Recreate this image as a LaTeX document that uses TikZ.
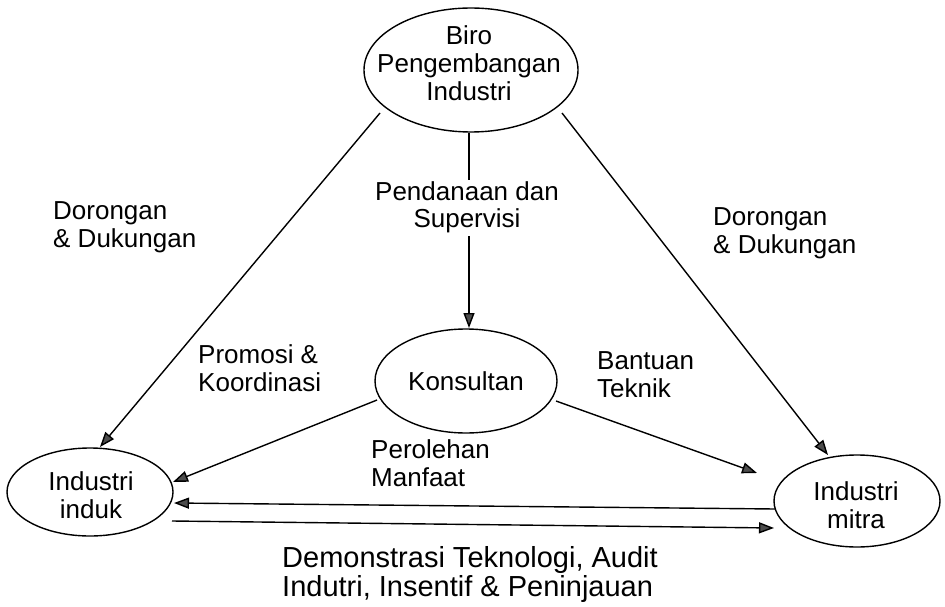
\documentclass[tikz,border=0pt]{standalone}
\usepackage{fontspec}
\setmainfont{Liberation Sans}
\usetikzlibrary{shapes.geometric,arrows.meta}
\newcommand\mytab[2][l]{\begin{tabular}[t]{@{}#1@{}}#2\end{tabular}}
\begin{document}
\begin{tikzpicture}[x=1pt,y=-1pt,
  ell/.style={draw,ellipse,line width=1.4pt,inner sep=0pt},
  conn/.style={line width=1.4pt,-{Triangle[length=15pt,width=11pt,fill=black!70]}},
  txt/.style={inner sep=0pt,font=\fontsize{26}{28}\selectfont},
  lt/.style={txt,anchor=base west},
  ct/.style={txt,anchor=base}]
\useasboundingbox (0,0) rectangle (945,607);
% ellipses
\node[ell,minimum width=214pt,minimum height=124pt] (biro) at (471,70) {};
\node[ell,minimum width=182pt,minimum height=104pt] (kons) at (466,381) {};
\node[ell,minimum width=166pt,minimum height=88pt] (induk) at (90,492) {};
\node[ell,minimum width=166pt,minimum height=92pt] (mitra) at (857,501) {};
% node texts
\node[ct] (tbiro) at (469,45) {\mytab[c]{Biro\\Pengembangan\\Industri}};
\node[ct] (tkons) at (466,390) {Konsultan};
\node[ct] (tinduk) at (91,490) {\mytab[c]{Industri\\induk}};
\node[ct] (tmitra) at (856,500) {\mytab[c]{Industri\\mitra}};
% connector end points
\coordinate (a1s) at (380,113);
\coordinate (a1e) at (100,447);
\coordinate (a2s) at (562,113);
\coordinate (a2e) at (828,455);
\coordinate (a3e) at (469,328);
\coordinate (a4s) at (377,400);
\coordinate (a4e) at (173,482);
\coordinate (a5s) at (556,401);
\coordinate (a5e) at (757,473);
\coordinate (a6s) at (775,509);
\coordinate (a6e) at (174,503);
\coordinate (a7s) at (172,521);
\coordinate (a7e) at (774,528);
% connectors
\draw[conn] (a1s) -- (a1e);
\draw[conn] (a2s) -- (a2e);
\draw[conn] (biro.south -| a3e) -- (a3e);
\draw[conn] (a4s) -- (a4e);
\draw[conn] (a5s) -- (a5e);
\draw[conn] (a6s) -- (a6e);
\draw[conn] (a7s) -- (a7e);
% labels
\node[lt] (l1) at (53,219) {\mytab{Dorongan\\\& Dukungan}};
\node[ct,fill=white] (l2) at (467,200) {\mytab[c]{Pendanaan dan\\Supervisi}};
\node[lt] (l3) at (713,225) {\mytab{Dorongan\\\& Dukungan}};
\node[lt] (l4) at (198,363) {\mytab{Promosi \&\\Koordinasi}};
\node[lt] (l5) at (597,369) {\mytab{Bantuan\\Teknik}};
\node[lt] (l6) at (371,458) {\mytab{Perolehan\\Manfaat}};
\node[lt,font=\fontsize{29}{28}\selectfont] (l7) at (282,567) {\mytab{Demonstrasi Teknologi, Audit\\Indutri, Insentif \& Peninjauan}};
\end{tikzpicture}
\end{document}
